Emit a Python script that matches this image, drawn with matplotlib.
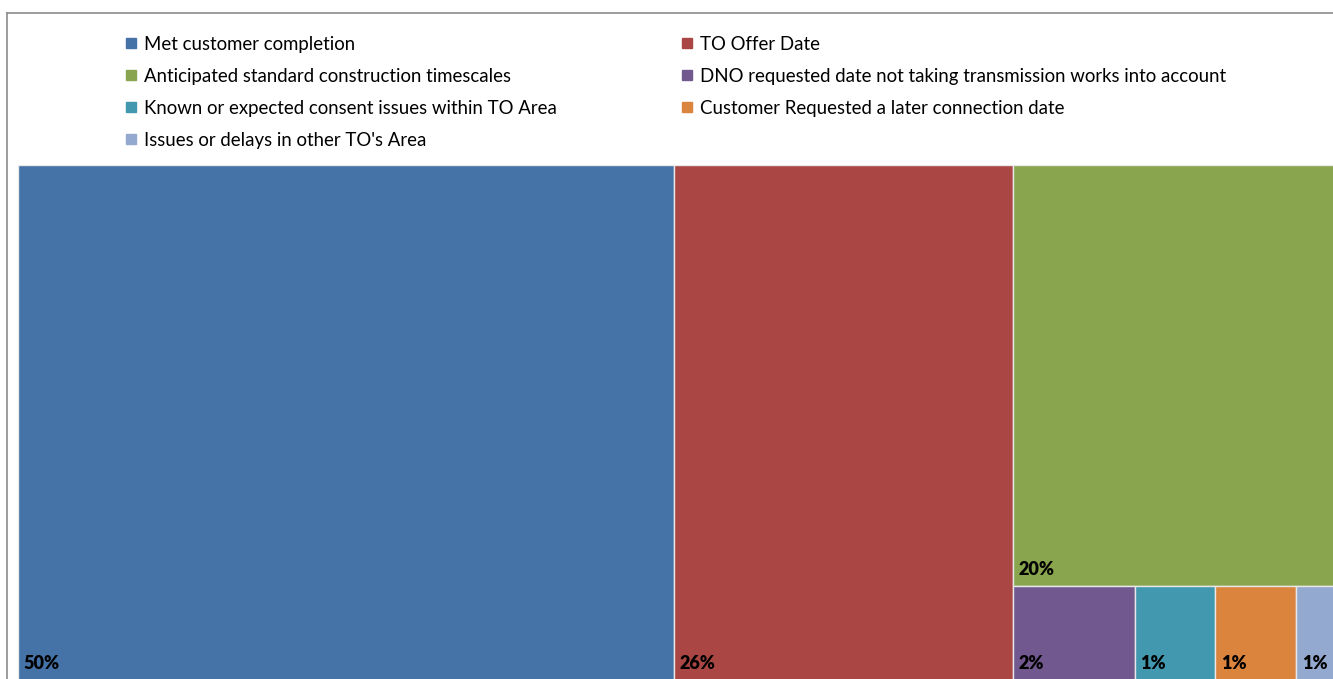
#Treemap of reasons for connection dates (Excel-style squarified layout)

import matplotlib.pyplot as plt
from matplotlib.patches import Rectangle
from matplotlib.lines import Line2D

plt.rcParams['font.family'] = ['Lato', 'DejaVu Sans']

categories = ['Met customer completion',
              'TO Offer Date',
              'Anticipated standard construction timescales',
              'DNO requested date not taking transmission works into account',
              'Known or expected consent issues within TO Area',
              'Customer Requested a later connection date',
              "Issues or delays in other TO's Area"]
values = [49.7, 25.7, 20.1, 1.68, 1.12, 1.12, 0.58]
colors = ['#4572A7', '#AA4643', '#89A54E', '#71588F', '#4198AF', '#DB843D', '#93A9CF']


def worst(row, side):
    s = sum(row)
    return max(max(side*side*r/(s*s), s*s/(side*side*r)) for r in row)


def squarify(areas, x, y, w, h):
    #standard squarified layout, returns (x, y, w, h) per area
    rects = []
    areas = list(areas)
    while areas:
        side = min(w, h)
        row = [areas[0]]
        i = 1
        while i < len(areas) and worst(row + [areas[i]], side) <= worst(row, side):
            row.append(areas[i])
            i += 1
        areas = areas[i:]
        s = sum(row)
        if w >= h:
            cw = s / h
            yy = y + h
            for a in row:
                rh = a / cw
                rects.append((x, yy - rh, cw, rh))
                yy -= rh
            x += cw
            w -= cw
        else:
            rh = s / w
            xx = x
            for a in row:
                rw = a / rh
                rects.append((xx, y + h - rh, rw, rh))
                xx += rw
            h -= rh
    return rects


fig = plt.figure(figsize=(13.33, 6.79), dpi=100)

#plot box (in pixel-like units, same as axes size)
W, H = 1320.0, 515.0
ax = fig.add_axes([18/1333, -1/679, W/1333, H/679])
ax.set_xlim(0, W)
ax.set_ylim(0, H)
ax.axis('off')

total = sum(values)
areas = [v/total*W*H for v in values]
rects = squarify(areas, 0, 0, W, H)

for (x, y, w, h), v, c in zip(rects, values, colors):
    ax.add_patch(Rectangle((x, y), w, h, facecolor=c, edgecolor='#e8e8e8', linewidth=1))
    ax.annotate(f'{round(v/total*100)}%', (x, y), xytext=(4, 5.5), textcoords='offset points',
                fontsize=13, fontweight='heavy', color='black', ha='left', va='bottom')

#outer frame lines (top and left visible)
fig.add_artist(Line2D([7/1333, 1], [1-13/679, 1-13/679], color='#8c8c8c', linewidth=1.2))
fig.add_artist(Line2D([7/1333, 7/1333], [0, 1-13/679], color='#8c8c8c', linewidth=1.2))

#legend, row-major order in 2 columns
handles = [Line2D([], [], marker='s', linestyle='none', markersize=6.5, color=c) for c in colors]
order = [0, 2, 4, 6, 1, 3, 5]
fig.legend([handles[i] for i in order], [categories[i] for i in order],
           ncol=2, loc='upper left', bbox_to_anchor=(125/1333, 1-36/679),
           frameon=False, fontsize=13.4, handlelength=0.6, handletextpad=0.4,
           columnspacing=6.7, labelspacing=0.8, borderpad=0, borderaxespad=0)

plt.savefig('out.png', dpi=100)
